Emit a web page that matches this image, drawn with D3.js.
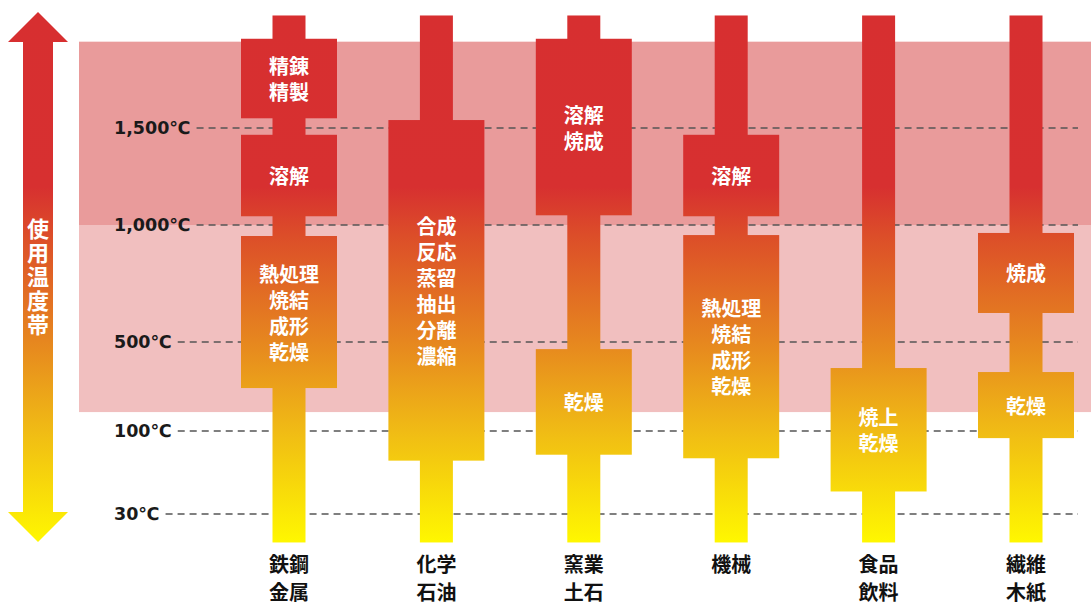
<!DOCTYPE html>
<html><head><meta charset="utf-8">
<script src="https://cdn.jsdelivr.net/npm/d3@7"></script>
<style>
html,body{margin:0;padding:0;background:#fff;}
svg{display:block;font-family:"Noto Sans CJK JP","Noto Sans",sans-serif;}
</style></head>
<body>
<svg id="chart" width="1091" height="605"></svg>
<script>
// ---- data ----
const categories = ["鉄鋼金属", "化学石油", "窯業土石", "機械", "食品飲料", "繊維木紙"];
const categoryLines = [["鉄鋼","金属"],["化学","石油"],["窯業","土石"],["機械"],["食品","飲料"],["繊維","木紙"]];
const tickValues = [30, 100, 500, 1000, 1500];
const tickNumbers = ["30", "100", "500", "1,000", "1,500"];
const tickUnit = "℃";
const stemRange = [6, 2080];          // temperature span of each thin column
const zoneHigh = [1000, 1945];        // dark band
const zoneMid = [185, 1000];          // light band
const processCategory = ["鉄鋼金属","鉄鋼金属","鉄鋼金属","化学石油","窯業土石","窯業土石","機械","機械","食品飲料","繊維木紙","繊維木紙"];
const processLabels = [["精錬","精製"],["溶解"],["熱処理","焼結","成形","乾燥"],["合成","反応","蒸留","抽出","分離","濃縮"],["溶解","焼成"],["乾燥"],["溶解"],["熱処理","焼結","成形","乾燥"],["焼上","乾燥"],["焼成"],["乾燥"]];
const processHigh = [1960, 1465, 953, 1541, 1960, 468, 1465, 957, 383, 966, 365];
const processLow  = [1550, 1045, 293, 75, 1050, 80, 1045, 77, 49, 624, 94];
const axisTitle = "使用温度帯";

// ---- layout ----
const svg = d3.select("#chart");
const y = d3.scaleLinear().domain(tickValues).range([514, 431, 342, 225, 128]);
const x = d3.scalePoint().domain(categories).range([289, 1026]);
const stemW = 33, blockW = 96;

const defs = svg.append("defs");
const grad = defs.append("linearGradient").attr("id", "heat")
  .attr("gradientUnits", "userSpaceOnUse")
  .attr("x1", 0).attr("x2", 0).attr("y1", 12).attr("y2", 542);
[[0, "#d72f30"], [0.33, "#d73030"], [0.42, "#dc4d29"], [0.62, "#e6861f"], [0.79, "#f0bb15"], [1, "#fff700"]]
  .forEach(([o, c]) => grad.append("stop").attr("offset", o).attr("stop-color", c));

// background zones
svg.append("rect").attr("x", 79).attr("width", 1091 - 79)
  .attr("y", y(zoneHigh[1])).attr("height", y(zoneHigh[0]) - y(zoneHigh[1])).attr("fill", "#e99b9b");
svg.append("rect").attr("x", 79).attr("width", 1091 - 79)
  .attr("y", y(zoneMid[1])).attr("height", y(zoneMid[0]) - y(zoneMid[1])).attr("fill", "#f1bfbf");

// axis labels (D3 axis) + dashed guide lines
const axisG = svg.append("g").attr("transform", "translate(114,0)")
  .call(d3.axisRight(y).tickValues(tickValues).tickFormat((d, i) => tickNumbers[i]).tickSize(0).tickPadding(0));
axisG.select(".domain").remove();
axisG.selectAll("text").attr("font-size", 17.5).attr("font-weight", 700).attr("fill", "#1a1a1a")
  .attr("font-family", "'DejaVu Sans',sans-serif")
  .append("tspan").attr("font-family", "'DejaVu Sans','Noto Sans CJK JP',sans-serif").attr("font-size", 17.5).text(tickUnit);
const guides = svg.append("g");
axisG.selectAll(".tick").each(function (d) {
  const w = this.querySelector("text").getComputedTextLength();
  guides.append("line").attr("x1", 114 + w + 6).attr("x2", 1078)
    .attr("y1", y(d)).attr("y2", y(d))
    .attr("stroke", "#555").attr("stroke-width", 1.3).attr("stroke-dasharray", "7,5");
});
axisG.raise();

// stems
svg.append("g").selectAll("rect").data(categories).join("rect")
  .attr("x", d => x(d) - stemW / 2).attr("width", stemW)
  .attr("y", y(stemRange[1])).attr("height", y(stemRange[0]) - y(stemRange[1]))
  .attr("fill", "url(#heat)");

// blocks
const blocks = processCategory.map((c, i) => ({ c, lines: processLabels[i], hi: processHigh[i], lo: processLow[i] }));
const bg = svg.append("g").selectAll("g").data(blocks).join("g");
bg.append("rect")
  .attr("x", d => x(d.c) - blockW / 2).attr("width", blockW)
  .attr("y", d => y(d.hi)).attr("height", d => y(d.lo) - y(d.hi))
  .attr("fill", "url(#heat)");
bg.each(function (d) {
  const cy = (y(d.hi) + y(d.lo)) / 2;
  const lh = 26;
  const t = d3.select(this).append("text").attr("fill", "#fff").attr("font-size", 20).attr("font-weight", 700)
    .attr("text-anchor", "middle");
  d.lines.forEach((l, k) => {
    t.append("tspan").attr("x", x(d.c)).attr("y", cy + (k - (d.lines.length - 1) / 2) * lh)
      .attr("dominant-baseline", "central").text(l);
  });
});

// category labels
categories.forEach((c, i) => {
  const t = svg.append("text").attr("text-anchor", "middle").attr("font-size", 20).attr("font-weight", 700).attr("fill", "#111");
  categoryLines[i].forEach((l, k) => {
    t.append("tspan").attr("x", x(c)).attr("y", 563 + k * 28).attr("dominant-baseline", "central").text(l);
  });
});

// left arrow
const ax = 38;
const arrow = d3.path();
arrow.moveTo(ax, 12); arrow.lineTo(68, 42); arrow.lineTo(53, 42); arrow.lineTo(53, 512);
arrow.lineTo(68, 512); arrow.lineTo(ax, 542); arrow.lineTo(8, 512); arrow.lineTo(23, 512);
arrow.lineTo(23, 42); arrow.lineTo(8, 42); arrow.closePath();
svg.append("path").attr("d", arrow.toString()).attr("fill", "url(#heat)");
svg.append("text").attr("fill", "#fff").attr("font-size", 22).attr("font-weight", 700)
  .attr("x", ax).attr("y", 218).attr("writing-mode", "vertical-rl").attr("letter-spacing", 2)
  .text(axisTitle);
</script>
</body></html>
